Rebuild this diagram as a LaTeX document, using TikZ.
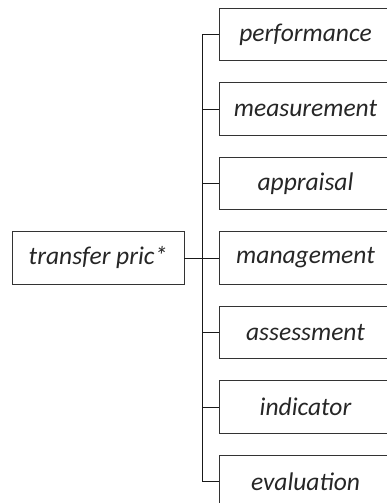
\documentclass[tikz,border=0pt]{standalone}
\usepackage{fontspec}
\setmainfont{Carlito}
\begin{document}
\begin{tikzpicture}[x=1pt,y=-1pt,
  box/.style={draw=black!80, line width=0.9pt, minimum width=172pt, minimum height=52.5pt, inner sep=0pt,
    font=\fontsize{25.5}{30}\selectfont\itshape, text=black!85},
  conn/.style={draw=black!90, line width=1pt}]
\useasboundingbox (0,0) rectangle (387,503);
\node[box] (root) at (98,258) {transfer pric*};
\node[box] (c1) at (305.5,34.5) {performance};
\node[box] (c2) at (305.5,109) {measurement};
\node[box] (c3) at (305.5,183.5) {appraisal};
\node[box] (c4) at (305.5,258) {management};
\node[box] (c5) at (305.5,332.5) {assessment};
\node[box] (c6) at (305.5,407) {indicator};
\node[box] (c7) at (305.5,481.5) {evaluation};
\coordinate (j) at (202,258);
\draw[conn] (root.east) -- (j);
\foreach \i in {1,...,7} {
  \draw[conn] (j) |- (c\i.west);
}
\end{tikzpicture}
\end{document}
